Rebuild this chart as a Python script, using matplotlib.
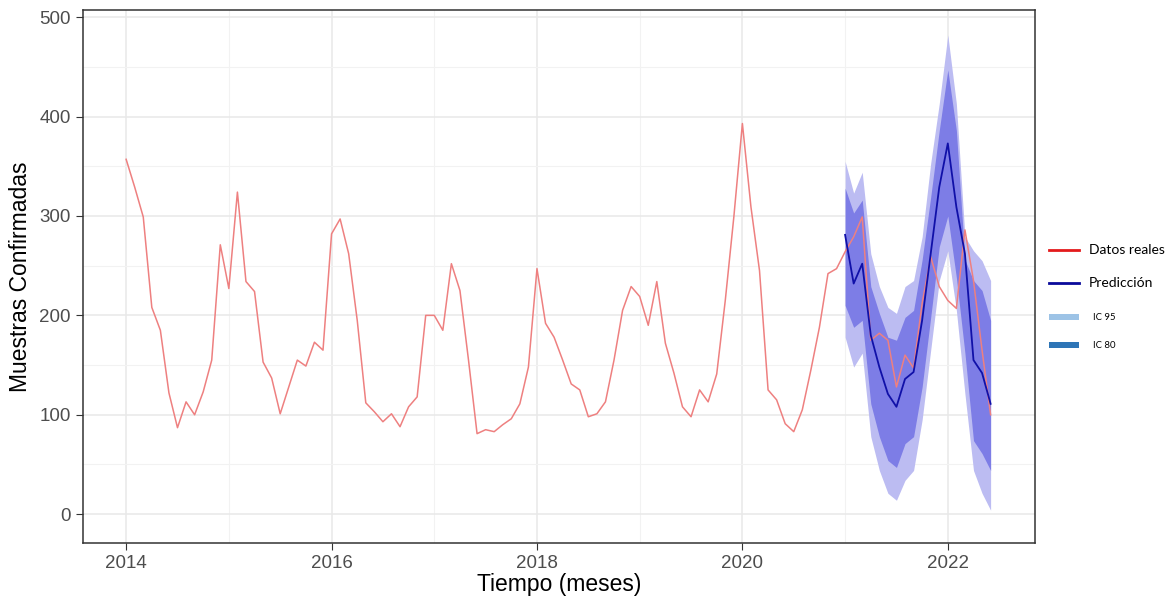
import numpy as np
import matplotlib
matplotlib.use('Agg')
import matplotlib.pyplot as plt
from matplotlib.lines import Line2D
from matplotlib.patches import Rectangle

plt.rcParams['font.family'] = ['Liberation Sans', 'DejaVu Sans']

# monthly observed counts, Jan 2014 .. Jun 2022
reales = [357, 329, 299, 208, 185, 122, 87, 113, 100, 123, 155, 271,
          227, 324, 234, 224, 153, 137, 101, 128, 155, 149, 173, 165,
          282, 297, 262, 195, 112, 103, 93, 101, 88, 108, 118, 200,
          200, 185, 252, 225, 155, 81, 85, 83, 90, 96, 111, 148,
          247, 192, 178, 155, 131, 125, 98, 101, 113, 155, 205, 229,
          219, 190, 234, 172, 142, 108, 98, 125, 113, 141, 215, 299,
          393, 309, 245, 125, 115, 91, 83, 105, 145, 188, 242, 247,
          264, 279, 299, 175, 182, 175, 128, 160, 147, 212, 259, 229,
          215, 207, 286, 235, 165, 100]

# forecast Jan 2021 .. Jun 2022
prediccion = [281, 232, 252, 180, 148, 121, 108, 136, 143, 195, 262, 329,
              373, 309, 262, 155, 142, 111]
sup95 = [355, 323, 344, 262, 229, 208, 202, 229, 235, 279, 353, 413,
         482, 413, 279, 265, 255, 235]
sup80 = [328, 303, 316, 229, 202, 178, 175, 198, 205, 256, 319, 386,
         447, 386, 256, 235, 225, 195]
inf80 = [210, 188, 195, 111, 78, 54, 47, 71, 78, 128, 198, 269,
         300, 238, 162, 74, 61, 44]
inf95 = [178, 148, 162, 78, 44, 21, 14, 34, 44, 95, 165, 235,
         265, 205, 121, 44, 21, 4]

t_real = 2014 + np.arange(len(reales)) / 12
t_pred = 2021 + np.arange(len(prediccion)) / 12

fig = plt.figure(figsize=(11.74, 6), dpi=100)
ax = fig.add_axes([0.0707, 0.095, 0.811, 0.888])

ax.fill_between(t_pred, inf95, sup95, color='#bcbcf2', lw=0, zorder=2)
ax.fill_between(t_pred, inf80, sup80, color='#7d7de6', lw=0, zorder=3)
ax.plot(t_real, reales, color='#ee8080', lw=1.1, zorder=4)
ax.plot(t_pred, prediccion, color='#1010a8', lw=1.3, zorder=5)

ax.set_xlim(2013.58, 2022.85)
ax.set_ylim(-29, 507)
ax.set_xticks([2014, 2016, 2018, 2020, 2022])
ax.set_xticks([2015, 2017, 2019, 2021], minor=True)
ax.set_yticks([0, 100, 200, 300, 400, 500])
ax.set_yticks([50, 150, 250, 350, 450], minor=True)
ax.grid(True, which='major', color='#e8e8e8', lw=1.1, zorder=0)
ax.grid(True, which='minor', color='#f2f2f2', lw=0.8, zorder=0)
ax.set_axisbelow(True)
for s in ax.spines.values():
    s.set_color('#333333')
    s.set_linewidth(1.1)
ax.tick_params(which='major', length=5, color='#333333', labelsize=13.5,
               labelcolor='#4d4d4d', pad=4)
ax.tick_params(which='minor', length=0)
ax.set_xlabel('Tiempo (meses)', fontsize=16.5, labelpad=0)
ax.set_ylabel('Muestras Confirmadas', fontsize=16.5, labelpad=5)

# legend outside the panel
W, H = 1174, 600
def fx(px):
    return px / W
def fy(py):
    return 1 - py / H

leg = [('Datos reales', 'line', '#e31a1c', 250, 10),
       ('Predicción', 'line', '#0a0a9a', 283, 10),
       ('IC 95', 'bar', '#9dc3e6', 317, 6.8),
       ('IC 80', 'bar', '#2e75b6', 345, 6.8)]
for lab, kind, col, py, fs in leg:
    if kind == 'line':
        fig.add_artist(Line2D([fx(1049), fx(1079)], [fy(py), fy(py)],
                              color=col, lw=2, transform=fig.transFigure))
    else:
        fig.add_artist(Rectangle((fx(1049), fy(py + 3)), fx(30), 6 / H,
                                 color=col, lw=0, transform=fig.transFigure))
    fig.text(fx(1089) if kind == 'line' else fx(1093), fy(py), lab,
             fontsize=fs, va='center', ha='left', family=['Lato', 'DejaVu Sans'])

fig.savefig('out.png', dpi=100)
